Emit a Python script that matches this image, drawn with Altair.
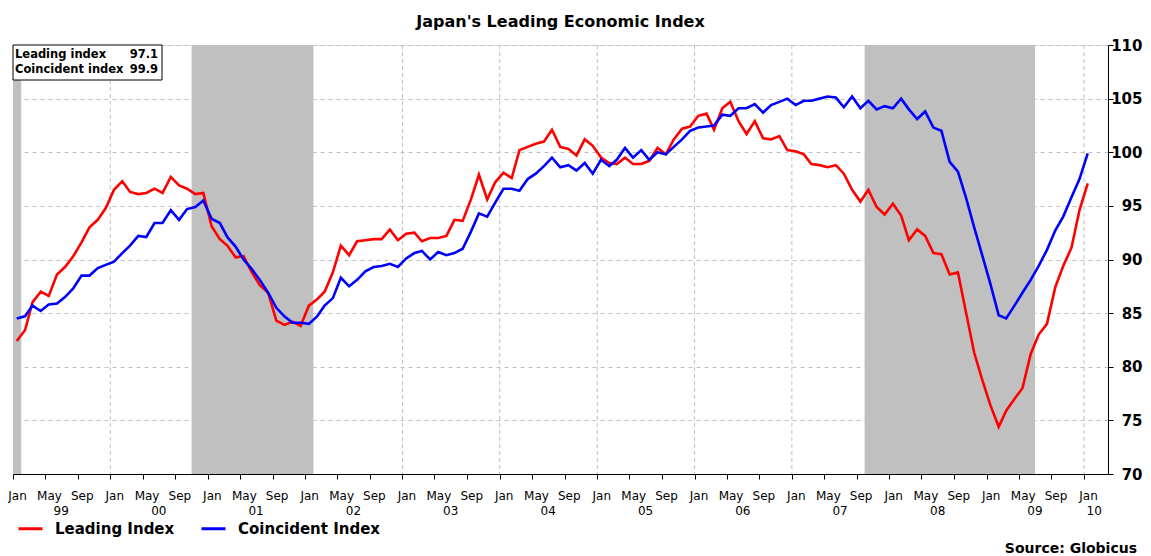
import altair as alt
import pandas as pd

# ---------------- data ----------------
first_month = "1999-01-01"
leading = [82.4, 83.4, 86.0, 87.0, 86.6, 88.6, 89.3, 90.3, 91.6, 93.0, 93.7, 94.8,
           96.5, 97.3, 96.3, 96.1, 96.2, 96.6, 96.2, 97.7, 96.9, 96.6, 96.1, 96.2,
           93.1, 91.9, 91.3, 90.2, 90.3, 88.8, 87.6, 86.9, 84.3, 83.9, 84.2, 83.8,
           85.7, 86.3, 87.0, 88.8, 91.3, 90.4, 91.7, 91.8, 91.9, 91.9, 92.8, 91.8,
           92.4, 92.5, 91.7, 92.0, 92.0, 92.2, 93.7, 93.6, 95.6, 97.9, 95.6, 97.2,
           98.1, 97.6, 100.2, 100.5, 100.8, 101.0, 102.1, 100.5, 100.3, 99.7, 101.2, 100.6,
           99.5, 99.0, 98.9, 99.5, 98.9, 98.9, 99.2, 100.4, 99.8, 101.2, 102.2, 102.4,
           103.4, 103.6, 102.1, 104.1, 104.7, 102.9, 101.7, 102.9, 101.3, 101.2, 101.5, 100.2,
           100.1, 99.8, 98.9, 98.8, 98.6, 98.8, 98.0, 96.5, 95.4, 96.5, 94.9, 94.2,
           95.2, 94.1, 91.8, 92.8, 92.2, 90.6, 90.5, 88.6, 88.8, 85.1, 81.3, 78.8,
           76.4, 74.4, 75.9, 77.0, 78.0, 81.2, 83.0, 84.0, 87.4, 89.4, 91.1, 94.6,
           97.1]
coincident = [84.5, 84.7, 85.7, 85.2, 85.8, 85.9, 86.5, 87.3, 88.5, 88.5, 89.2, 89.5,
              89.8, 90.6, 91.3, 92.2, 92.1, 93.4, 93.4, 94.6, 93.7, 94.7, 94.9, 95.5,
              93.8, 93.4, 92.1, 91.2, 90.0, 89.1, 88.1, 86.9, 85.5, 84.7, 84.1, 84.1,
              84.0, 84.7, 85.7, 86.4, 88.3, 87.5, 88.1, 88.9, 89.3, 89.4, 89.6, 89.3,
              90.1, 90.6, 90.8, 90.0, 90.7, 90.4, 90.6, 91.0, 92.6, 94.3, 94.0, 95.3,
              96.6, 96.6, 96.4, 97.5, 98.0, 98.7, 99.5, 98.6, 98.8, 98.3, 99.0, 98.0,
              99.3, 98.7, 99.3, 100.4, 99.5, 100.2, 99.3, 100.0, 99.8, 100.5, 101.2, 102.0,
              102.3, 102.4, 102.5, 103.5, 103.4, 104.1, 104.1, 104.5, 103.7, 104.4, 104.7, 105.0,
              104.4, 104.8, 104.8, 105.0, 105.2, 105.1, 104.2, 105.2, 104.1, 104.8, 104.0, 104.3,
              104.1, 105.0, 104.0, 103.1, 103.8, 102.3, 102.0, 99.1, 98.2, 95.8, 93.0, 90.4,
              87.7, 84.8, 84.5, 85.7, 86.9, 88.1, 89.4, 90.9, 92.7, 94.0, 95.8, 97.5,
              99.9]
series_names = ["Leading Index", "Coincident Index"]
series_colors = ["#ff0000", "#0000ff"]

recession_start = ["1998-12-01", "2000-11-01", "2007-10-01"]
recession_end = ["1999-02-01", "2002-02-01", "2009-07-01"]

y_ticks = [70, 75, 80, 85, 90, 95, 100, 105, 110]
year_labels = ["99", "00", "01", "02", "03", "04", "05", "06", "07", "08", "09", "10"]
year_label_dates = ["1999-07-01", "2000-07-01", "2001-07-01", "2002-07-01", "2003-07-01",
                    "2004-07-01", "2005-07-01", "2006-07-01", "2007-07-01", "2008-07-01",
                    "2009-07-01", "2010-02-08"]
jan_grid_dates = ["2000-01-01", "2001-01-01", "2002-01-01", "2003-01-01", "2004-01-01",
                  "2005-01-01", "2006-01-01", "2007-01-01", "2008-01-01", "2009-01-01",
                  "2010-01-01"]
latest_labels = ["Leading index", "Coincident index"]
latest_values = ["97.1", "99.9"]
title_text = "Japan's Leading Economic Index"
source_text = "Source: Globicus"

# ---------------- tables ----------------
dates = (pd.date_range(first_month, periods=len(leading), freq="MS") + pd.Timedelta(days=14)).strftime("%Y-%m-%d")
lines_df = pd.concat([
    pd.DataFrame({"date": dates, "value": leading, "series": series_names[0]}),
    pd.DataFrame({"date": dates, "value": coincident, "series": series_names[1]}),
], ignore_index=True)
rec_df = pd.DataFrame({"start": recession_start, "end": recession_end})
years_df = pd.DataFrame({"date": year_label_dates, "label": year_labels})
jan_df = pd.DataFrame({"date": jan_grid_dates})
box_df = pd.DataFrame({"labels": ["\n".join(latest_labels)], "values": ["\n".join(latest_values)]})
one_df = pd.DataFrame({"title": [title_text], "source": [source_text]})

FONT = "DejaVu Sans"
W, H = 1095, 429

x_values = []
for yr in range(1999, 2011):
    for m in (1, 5, 9):
        if yr == 2010 and m > 1:
            continue
        x_values.append(alt.DateTime(year=yr, month=m, date=1, utc=True))

x_scale = alt.Scale(type="utc", domain=[alt.DateTime(year=1999, month=1, date=1, utc=True),
                                        alt.DateTime(year=2010, month=4, date=1, utc=True)])
x_axis = alt.Axis(
    title=None, values=x_values, grid=False,
    labelExpr="['Jan','Feb','Mar','Apr','May','Jun','Jul','Aug','Sep','Oct','Nov','Dec'][utcmonth(datum.value)]",
    labelFont=FONT, labelFontSize=12, labelColor="black", labelBaseline="alphabetic",
    labelPadding=20, labelOffset=4, labelAlign="center",
    tickSize=5, tickColor="black", domainColor="black", labelOverlap=False,
)


def xenc(field):
    return alt.X(field, type="temporal", scale=x_scale, axis=x_axis)


vgrid = alt.Chart(jan_df).mark_rule(color="#c0c0c0", strokeDash=[4, 3], strokeWidth=1).encode(
    x=xenc("date")
)

shade = alt.Chart(rec_df).mark_rect(color="#c0c0c0", clip=True).encode(
    x=xenc("start"), x2="end:T"
)

lines = alt.Chart(lines_df).mark_line(strokeWidth=2.6).encode(
    x=xenc("date"),
    y=alt.Y("value:Q",
            scale=alt.Scale(domain=[70, 110], nice=False, zero=False),
            axis=alt.Axis(orient="right", title=None, values=y_ticks, grid=True,
                          gridColor="#c0c0c0", gridDash=[4, 4], gridWidth=1,
                          labelFont=FONT, labelFontSize=15, labelFontWeight="bold",
                          labelColor="black", labelAlign="right", labelPadding=29,
                          labelBaseline="middle",
                          tickSize=5, tickColor="black", domainColor="black")),
    color=alt.Color("series:N",
                    scale=alt.Scale(domain=series_names, range=series_colors),
                    legend=alt.Legend(title=None, orient="none", direction="horizontal",
                                      legendX=4, legendY=470, padding=0,
                                      symbolType="stroke", symbolSize=576, symbolStrokeWidth=3,
                                      labelFont=FONT, labelFontSize=15, labelFontWeight="bold",
                                      labelColor="black", labelOffset=11, columnPadding=20)),
    order=alt.Order("date:T"),
    detail="series:N",
)

box = alt.Chart(box_df).mark_rect(fill="white", stroke="black", strokeWidth=1).encode(
    x=alt.value(0), x2=alt.value(149), y=alt.value(0), y2=alt.value(35)
)
box_labels = alt.Chart(box_df).mark_text(
    align="left", baseline="alphabetic", font=FONT, fontSize=11.5, fontWeight="bold",
    lineBreak="\n", lineHeight=15, color="black"
).encode(x=alt.value(2), y=alt.value(12.5), text="labels:N")
box_values = alt.Chart(box_df).mark_text(
    align="right", baseline="alphabetic", font=FONT, fontSize=11.5, fontWeight="bold",
    lineBreak="\n", lineHeight=15, color="black"
).encode(x=alt.value(145), y=alt.value(12.5), text="values:N")

title = alt.Chart(one_df).mark_text(
    align="center", baseline="alphabetic", font=FONT, fontSize=16, fontWeight="bold", color="black"
).encode(x=alt.value(W / 2), y=alt.value(-18), text="title:N")

source = alt.Chart(one_df).mark_text(
    align="right", baseline="alphabetic", font=FONT, fontSize=14, fontWeight="bold", color="black"
).encode(x=alt.value(1124), y=alt.value(508), text="source:N")

years = alt.Chart(years_df).mark_text(
    align="center", baseline="alphabetic", font=FONT, fontSize=12, color="black"
).encode(x=xenc("date"), y=alt.value(470), text="label:N")

chart = alt.layer(vgrid, shade, lines, box, box_labels, box_values, title, source, years).properties(
    width=W, height=H,
    autosize=alt.AutoSizeParams(type="none"),
    padding={"left": 5, "top": 37, "right": 35, "bottom": 81},
    background="white",
).configure_view(stroke="black", strokeWidth=1).configure(font=FONT)

chart.save("out.html", embed_options={"renderer": "svg", "actions": False})
